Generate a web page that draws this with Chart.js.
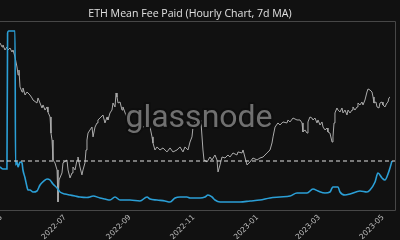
<!DOCTYPE html>
<html>
<head>
<meta charset="utf-8">
<script src="https://cdn.jsdelivr.net/npm/chart.js@4.4.1/dist/chart.umd.min.js"></script>
<style>
html,body{margin:0;padding:0;background:#111111;}
canvas{display:block;}
</style>
</head>
<body>
<canvas id="c" width="400" height="240" style="width:400px;height:240px"></canvas>
<script>
// ---- DATA ----
const titleText = 'ETH Mean Fee Paid (Hourly Chart, 7d MA)';
const watermarkText = 'glassnode';

// x values: days since 2022-05-01
const tickDays = [0, 61, 123, 184, 245, 304, 365];
const tickLabels = ['2022-05', '2022-07', '2022-09', '2022-11', '2023-01', '2023-03', '2023-05'];

// ETH price (USD, grey line)
const priceDays = [-1.1,0.8,1.7,3.6,5.5,6.5,8.4,10.3,11.3,13.2,15.1,16.1,17.0,18.0,19.9,20.8,22.8,24.7,27.5,29.4,30.4,34.2,35.2,37.1,39.0,40.0,41.9,43.8,44.7,46.7,47.6,48.6,49.5,51.4,53.4,54.3,55.3,58.1,59.1,62.9,63.9,65.8,67.7,68.6,70.6,72.5,73.4,75.3,77.2,78.2,80.1,81.1,82.0,83.0,84.9,86.8,87.8,89.7,91.6,92.5,94.5,97.3,99.2,101.2,102.1,104.0,105.9,106.9,108.8,109.8,110.7,111.7,113.6,115.5,116.4,120.3,123.1,125.1,126.0,127.9,129.8,130.8,132.7,135.6,139.4,140.3,142.3,144.2,145.1,147.0,149.0,151.8,154.7,158.5,161.4,164.2,168.1,170.9,173.8,175.7,178.6,180.5,182.4,183.4,185.3,187.2,188.2,190.1,191.0,192.9,193.9,196.8,199.6,201.5,204.4,206.3,207.3,209.2,211.1,214.0,216.8,218.7,221.6,225.4,226.4,230.2,231.2,235.0,237.9,240.7,244.6,247.4,250.3,254.1,257.0,258.9,259.9,261.8,264.6,266.5,269.4,273.2,274.2,276.1,279.0,282.8,285.7,287.6,288.5,290.4,292.4,293.3,295.2,297.1,298.1,300.0,301.9,302.9,304.8,306.7,307.7,309.6,311.5,312.4,314.3,316.3,317.2,318.2,319.1,321.0,322.0,323.9,325.8,326.8,328.7,330.6,331.6,333.5,335.4,336.3,338.2,340.2,341.1,343.0,344.9,345.9,347.8,349.7,350.7,352.6,354.5,355.5,356.4,358.3,359.3,361.2,362.1,364.1,365.0,366.9,368.8,369.8,370.7,371.7];
const priceUsd = [2904,2820,2862,2757,2820,2757,2798,2716,2757,2617,2428,2288,2374,2092,2015,2076,1970,2015,1970,1927,1898,1856,1927,1856,1788,1829,1761,1802,1735,1672,1483,1408,1213,1187,1126,887,1045,1101,1187,1213,1126,1061,1101,1151,1126,1213,1240,1151,1085,1126,1187,1307,1408,1483,1518,1551,1441,1551,1599,1635,1659,1697,1599,1672,1635,1723,1761,1856,1802,2000,1941,1856,1870,1761,1802,1659,1551,1495,1540,1599,1551,1518,1575,1551,1575,1599,1551,1441,1377,1307,1337,1307,1327,1288,1327,1288,1307,1337,1288,1337,1307,1387,1441,1551,1611,1599,1659,1635,1611,1307,1213,1195,1240,1213,1259,1213,1109,1169,1240,1231,1259,1240,1278,1259,1288,1278,1307,1169,1195,1231,1213,1231,1240,1278,1307,1377,1441,1551,1599,1575,1611,1599,1635,1611,1659,1635,1635,1599,1495,1518,1483,1611,1672,1659,1635,1659,1599,1635,1575,1611,1551,1518,1540,1495,1483,1387,1441,1599,1723,1788,1761,1735,1788,1723,1761,1697,1761,1723,1761,1802,1761,1802,1856,1829,1870,1829,1898,2015,2061,2045,2015,1941,1856,1870,1802,1788,1856,1870,1829,1802,1856,1870,1927,1941];

// Mean fee paid, 7d MA (USD, blue line)
const feeDays = [-1.1,1.7,4.6,5.5,6.1,7.0,10.3,13.2,13.7,15.1,16.1,18.0,19.9,20.8,22.8,24.7,25.6,27.5,30.4,34.2,37.1,40.9,43.8,46.7,49.5,53.4,56.2,61.0,65.8,70.6,75.3,82.0,84.9,87.8,94.5,99.2,104.0,108.8,113.6,123.1,132.7,139.4,142.3,149.0,156.6,161.4,166.2,170.9,177.6,180.5,187.2,190.1,194.8,197.7,201.5,204.4,209.2,218.7,228.3,237.9,247.4,257.0,266.5,276.1,282.8,285.7,292.4,298.1,302.9,309.6,314.3,316.3,317.2,322.0,323.9,328.7,333.5,343.0,349.7,352.6,357.4,360.2,364.1,366.9,369.8,371.7,373.6];
const feeUsd = [13.65,13.02,13.02,13.02,56.19,56.83,56.83,56.83,14.29,15.24,13.65,15.24,14.92,12.70,10.16,7.30,6.35,6.35,5.71,6.03,7.94,9.21,9.84,9.52,8.25,6.98,5.71,5.08,4.76,4.44,4.13,3.97,4.13,4.44,3.81,3.49,3.17,4.13,3.17,3.17,2.86,4.13,3.49,3.17,2.86,2.54,3.81,4.13,4.13,3.81,3.81,3.81,4.13,4.76,4.13,3.17,2.54,2.54,2.54,2.86,3.17,3.81,4.13,4.44,5.40,5.40,5.40,6.67,6.03,5.40,5.71,6.98,7.30,7.30,5.71,4.76,5.08,6.03,5.71,6.35,8.89,11.75,10.16,9.52,11.43,13.33,15.56];

// ---- CHART ----
const xMin = -1.15, xMax = 376.5;
const lastFee = feeUsd[feeUsd.length - 1];

const bgPlugin = {
  id: 'bg',
  beforeDraw(chart) {
    const c = chart.ctx;
    c.save();
    c.fillStyle = '#111111';
    c.fillRect(0, 0, chart.width, chart.height);
    c.restore();
  },
  afterDatasetsDraw(chart) {
    const c = chart.ctx, a = chart.chartArea;
    c.save();
    // watermark
    c.font = '32px Roboto';
    c.textAlign = 'center';
    c.textBaseline = 'alphabetic';
    c.lineJoin = 'round';
    c.strokeStyle = '#0e0e0e';
    c.lineWidth = 4;
    c.strokeText(watermarkText, 199, 127);
    c.fillStyle = '#707070';
    c.fillText(watermarkText, 199, 127);
    // frame
    c.strokeStyle = '#474747';
    c.lineWidth = 1;
    c.beginPath();
    c.moveTo(0, Math.round(a.top) + 0.5);
    c.lineTo(Math.round(a.right) + 0.5, Math.round(a.top) + 0.5);
    c.lineTo(Math.round(a.right) + 0.5, Math.round(a.bottom) + 0.5);
    c.lineTo(0, Math.round(a.bottom) + 0.5);
    c.stroke();
    // title
    c.font = '10.6px "Open Sans"';
    c.fillStyle = '#e0e0e0';
    c.textAlign = 'center';
    c.fillText(titleText, 190, 17);
    c.restore();
  }
};

new Chart(document.getElementById('c'), {
  type: 'line',
  data: {
    datasets: [
      {
        label: 'Latest fee',
        data: [{x: xMin, y: lastFee}, {x: xMax, y: lastFee}],
        yAxisID: 'yFee',
        borderColor: '#e2e2e2',
        borderDash: [4, 3],
        borderWidth: 1.2,
        pointRadius: 0,
        order: 0
      },
      {
        label: 'Mean Fee Paid (7d MA)',
        data: feeDays.map((d, i) => ({x: d, y: feeUsd[i]})),
        yAxisID: 'yFee',
        borderColor: '#2b9fd6',
        borderWidth: 1.6,
        pointRadius: 0,
        cubicInterpolationMode: 'monotone',
        order: 1
      },
      {
        label: 'ETH Price',
        data: priceDays.map((d, i) => ({x: d, y: priceUsd[i]})),
        yAxisID: 'yPrice',
        borderColor: '#ababab',
        borderWidth: 1,
        pointRadius: 0,
        tension: 0,
        order: 2
      }
    ]
  },
  options: {
    responsive: false,
    animation: false,
    events: [],
    layout: {padding: {top: 21, right: 5, left: 0, bottom: 0}},
    plugins: {legend: {display: false}, tooltip: {enabled: false}, title: {display: false}},
    scales: {
      x: {
        type: 'linear',
        min: xMin,
        max: xMax,
        bounds: 'data',
        afterBuildTicks: s => { s.ticks = tickDays.map(v => ({value: v})); },
        afterFit: s => { s.paddingLeft = 0; s.paddingRight = 0; s.height = 30; },
        grid: {display: false, drawTicks: false},
        border: {display: false},
        ticks: {
          autoSkip: false,
          maxRotation: 45,
          minRotation: 45,
          padding: 3,
          color: '#bdbdbd',
          font: {family: 'DejaVu Sans', size: 7.5},
          callback: v => tickLabels[tickDays.indexOf(v)]
        }
      },
      yPrice: {type: 'logarithmic', display: false, min: 835, max: 3423, bounds: 'data'},
      yFee: {type: 'linear', display: false, min: 0, max: 60, bounds: 'data'}
    }
  },
  plugins: [bgPlugin]
});
</script>
</body>
</html>
